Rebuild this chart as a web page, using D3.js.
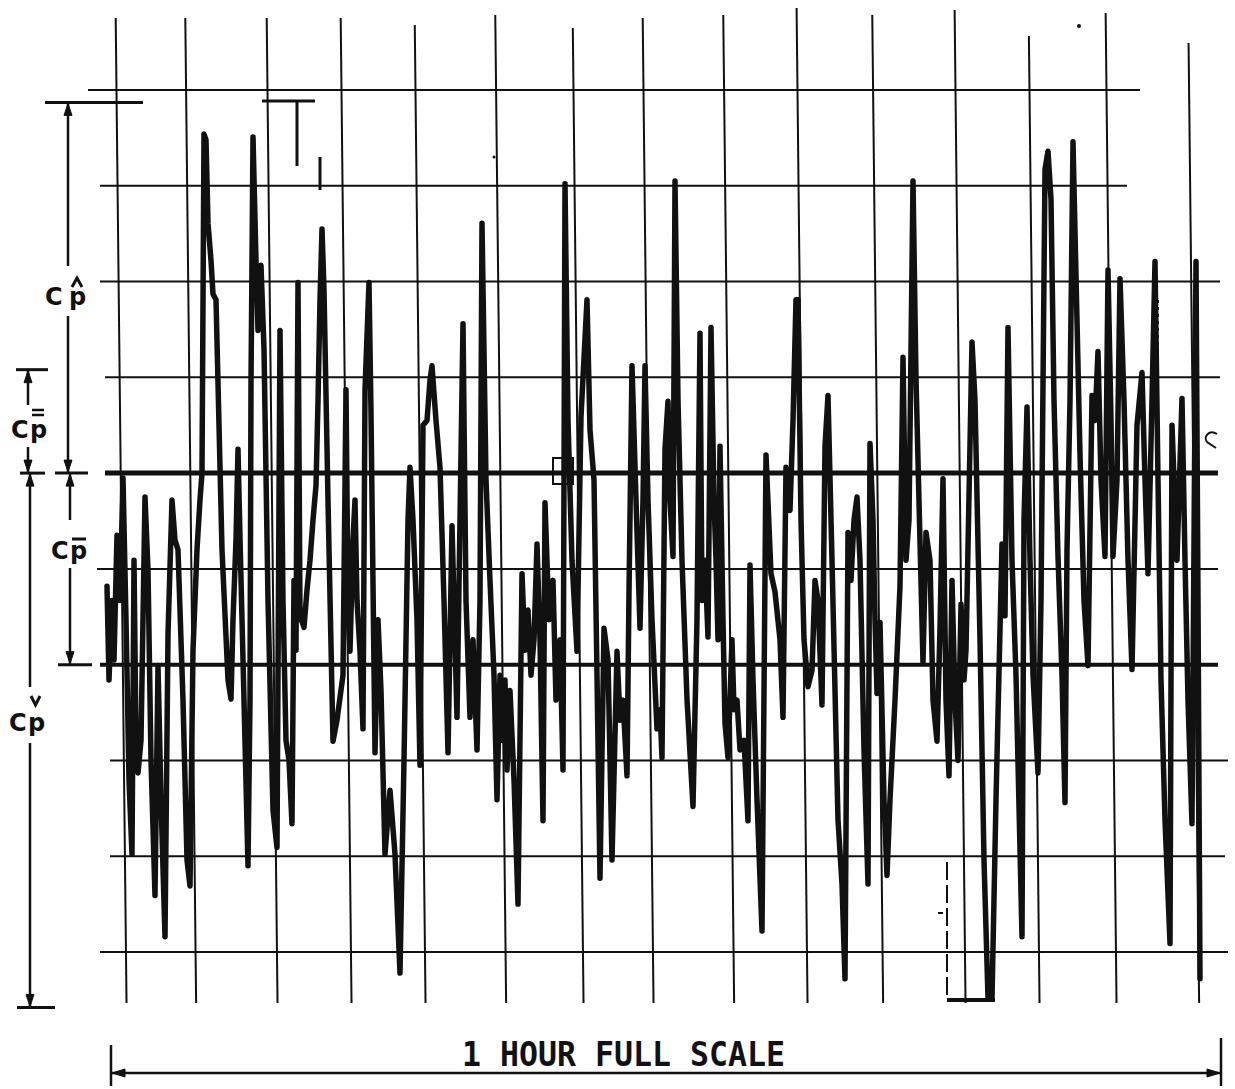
<!DOCTYPE html>
<html>
<head>
<meta charset="utf-8">
<script src="https://cdn.jsdelivr.net/npm/d3@7.9.0/dist/d3.min.js"></script>
<style>
  html, body { margin: 0; padding: 0; background: #fff; }
  svg { display: block; }
  .lbl { font-family: 'DejaVu Sans', sans-serif; font-weight: bold; font-size: 24px; fill: #111; }
  .scale { font-family: 'DejaVu Sans Mono', monospace; font-weight: bold; font-size: 34px; fill: #111; }
</style>
</head>
<body>
<svg id="chart" width="1235" height="1089"></svg>
<script>
// pen record: time in minutes, Cp in chart divisions (0 = upper heavy line)
const t1 = [0.35,0.45,0.6,0.7,0.85,1.0,1.15,1.3,1.45,1.6,1.7,1.8,1.9,2.05,2.25,2.4,2.55,2.75,2.9,3.05,3.25,3.4,3.6,3.75,3.9,4.15,4.35,4.5,4.65,4.85,5.0,5.1,5.2,5.3,5.4,5.55,5.65,5.8,6.1,6.4,6.55,6.65,6.8,6.9,7.0,7.2,7.4,7.5,7.55,7.65,7.8,7.9,8.05,8.2,8.4,8.65,8.85,9.0,9.15,9.3,9.45,9.6];
const cp1 = [-1.18,-2.16,-1.33,-1.95,-0.65,-1.33,-0.05,-1.53,-3.20,-3.98,-0.91,-2.79,-3.13,-2.79,-0.25,-1.01,-3.00,-4.41,-2.01,-3.41,-4.84,-1.68,-0.28,-0.70,-0.80,-2.37,-4.04,-4.31,-1.85,-0.80,-0.28,0.00,3.54,3.48,2.61,2.22,1.87,1.81,-0.80,-2.16,-2.36,-1.53,-0.70,0.25,-0.68,-2.37,-4.10,-2.37,0.93,3.51,2.22,1.49,2.17,1.30,-1.33,-3.52,-3.91,1.49,-1.33,-2.79,-3.00,-3.66];

const t2 = [9.7,9.8,9.9,10.0,10.2,10.35,10.5,10.65,10.8,10.9,11.0,11.1,11.2,11.4,11.65,11.85,12.15,12.3,12.4,12.5,12.65,12.75,12.85,13.0,13.15,13.25,13.45,13.55,13.75,13.9,14.05,14.25,14.5,14.75,15.0,15.2,15.4,15.5,15.65,15.85,16.0,16.15,16.35,16.5,16.6,16.8,17.0,17.2,17.4,17.6,17.85,18.15,18.3,18.5,18.65,18.85];
const cp2 = [-1.12,-1.85,1.99,-1.49,-1.61,-1.22,-0.91,-0.49,-0.13,0.75,1.81,2.55,1.91,-0.28,-2.80,-2.58,-2.11,0.87,-1.33,-1.86,-0.70,-0.28,-1.33,-1.86,-2.67,0.87,1.99,0.63,-2.92,-1.53,-2.27,-3.98,-3.31,-3.98,-5.22,-3.00,-0.49,0.06,-0.49,-1.53,-3.05,0.50,0.55,0.97,1.12,0.55,0.06,-1.33,-2.92,-0.55,-2.55,1.56,-1.33,-2.55,-1.74,-2.89];

const t3 = [19.0,19.1,19.3,19.5,19.7,19.85,20.0,20.15,20.25,20.35,20.5,20.7,20.9,21.1,21.25,21.4,21.55,21.7,21.85,22.0,22.15,22.25,22.45,22.65,22.8,23.0,23.15,23.25,23.4,23.6,23.85,24.05,24.35,24.5,24.7,24.85,25.0,25.2,25.4,25.6,25.85,26.0,26.15,26.35,26.45,26.6,26.8,27.0,27.15,27.25,27.4,27.6,27.85,28.0,28.1,28.25,28.4];
const cp3 = [-1.33,2.61,-0.07,-1.12,-2.11,-3.41,-2.11,-2.79,-2.16,-3.10,-2.27,-3.20,-4.50,-1.05,-1.85,-1.43,-2.11,-1.74,-0.74,-1.74,-3.63,-0.31,-1.53,-1.12,-2.37,-1.74,-3.10,3.02,0.55,-0.91,-1.86,0.59,1.81,0.45,-0.07,-2.11,-4.23,-1.62,-1.95,-4.04,-1.86,-2.58,-2.37,-3.16,-1.24,1.12,-0.28,-1.62,-0.28,1.12,-0.28,-1.53,-2.67,-2.47,-2.97,0.25,0.75];

const t4 = [28.5,28.65,28.75,28.9,29.1,29.35,29.65,29.85,30.0,30.1,30.25,30.4,30.55,30.7,30.8,30.9,31.0,31.15,31.25,31.4,31.6,31.7,31.85,32.0,32.2,32.4,32.5,32.65,32.85,33.1,33.3,33.55,33.75,34.0,34.15,34.3,34.5,34.65,34.8,34.9,35.05,35.2,35.4,35.6,35.75,35.9,36.1,36.25,36.4,36.6,36.9,37.1,37.25,37.4,37.55,37.7,37.85];
const cp4 = [-0.28,-0.87,3.05,0.76,-0.91,-2.36,-3.48,-1.52,1.46,-1.33,-0.91,-1.71,1.52,-0.28,-0.91,-1.74,0.28,-1.53,-2.61,-2.97,-1.74,-2.47,-2.37,-2.89,-2.79,-3.63,-0.96,-2.16,-3.41,-4.78,0.19,-1.05,-1.24,-1.74,-2.55,0.06,-0.39,0.55,1.81,1.81,-0.49,-1.74,-2.23,-2.06,-1.12,-1.33,-2.42,0.28,0.81,-0.91,-3.62,-4.29,-5.28,-0.62,-1.12,-0.49,-0.25];

const t5 = [38.0,38.2,38.4,38.5,38.65,38.75,38.85,39.0,39.2,39.35,39.5,39.75,40.0,40.15,40.3,40.45,40.65,40.8,40.9,41.15,41.3,41.5,41.65,41.85,42.0,42.15,42.3,42.45,42.6,42.75,42.9,43.05,43.2,43.3,43.6,43.75,44.0,44.2,44.4,44.6,44.8,45.1,45.25,45.4,45.6,45.8,46.1,46.2,46.35,46.5,46.65,46.9,47.05,47.25,47.4];
const cp5 = [-0.91,-2.89,-4.29,0.31,-0.49,-1.53,-2.30,-1.56,-3.41,-4.20,-3.41,-2.37,-1.18,1.21,-0.91,-0.49,3.05,0.99,0.13,-1.98,-0.62,-0.91,-2.37,-2.80,-1.62,-0.06,-2.37,-3.16,-1.12,-2.37,-3.00,-1.37,-2.16,-1.85,1.37,0.76,-1.74,-4.04,-5.48,-5.48,-3.41,-0.74,-1.49,1.52,-0.91,-2.11,-4.84,-0.49,0.69,-0.91,-2.11,-3.13,-1.33,3.17,3.36];

const t6 = [47.55,47.7,47.9,48.1,48.25,48.35,48.5,48.65,48.8,49.0,49.2,49.4,49.6,49.75,49.9,50.05,50.25,50.4,50.55,50.65,50.85,51.0,51.2,51.4,51.6,51.85,52.1,52.25,52.4,52.6,52.75,52.9,53.05,53.25,53.5,53.6,53.85,54.1,54.25,54.4,54.6,54.8,54.9,55.0];
const cp6 = [2.86,0.76,-0.87,-2.11,-3.44,-0.80,0.75,3.46,2.06,0.19,-1.33,-2.01,0.81,0.55,1.27,-0.07,-0.87,2.12,0.55,-0.87,-0.07,2.03,0.76,-0.91,-2.05,0.50,1.05,-0.07,-1.05,0.76,2.21,-0.07,-2.16,-3.62,-4.91,0.50,-0.91,0.78,-0.91,-2.37,-3.66,2.21,-1.33,-5.28];

// chart rulings
const gridMinutes = [1.05,4.53,8.6,12.3,16.0,20.03,23.9,27.4,31.43,35.1,38.88,43.0,46.7,50.55,54.68];
const gridDivisions = [4,3,2,1,0,-1,-2,-3,-4,-5];
const heavyDivisions = [0,-2];

// dimension marks on the left: Cp^ , Cp= , Cp- , Cpv
const dimNames = ['hat','dbar','bar','check'];
const dimTop = [3.87,1.08,0,0];
const dimBottom = [0,0,-2,-5.58];
const hourLabel = '1 HOUR FULL SCALE';

const svg = d3.select('#chart');
const ink = '#111';
const x = d3.scaleLinear().domain([0, 60]).range([100, 1300]);
const y = d3.scaleLinear().domain([-5, 4]).range([952, 90]);

// horizontal rulings (each one printed a little differently)
const hSpan = [[88,1140],[100,1127],[100,1220],[105,1220],[105,1218],[97,1218],[100,1218],[110,1228],[110,1225],[100,1228]];
svg.append('g').selectAll('line').data(gridDivisions).join('line')
  .attr('x1', (d, i) => hSpan[i][0]).attr('x2', (d, i) => hSpan[i][1])
  .attr('y1', d => y(d)).attr('y2', d => y(d))
  .attr('stroke', ink)
  .attr('stroke-width', d => d === 0 ? 5 : (heavyDivisions.includes(d) ? 4 : 2));

// time rulings lean slightly to the right going down
const slant = 0.011;
const vTop = [18,18,18,18,25,15,28,18,15,8,15,10,36,13,43];
const vBottom = 1003;
svg.append('g').selectAll('line').data(gridMinutes).join('line')
  .attr('x1', (d, i) => x(d) - slant * (500 - vTop[i])).attr('y1', (d, i) => vTop[i])
  .attr('x2', d => x(d) + slant * (vBottom - 500)).attr('y2', vBottom)
  .attr('stroke', ink).attr('stroke-width', 2);

// the record itself
const record = d3.merge([
  d3.zip(t1, cp1), d3.zip(t2, cp2), d3.zip(t3, cp3),
  d3.zip(t4, cp4), d3.zip(t5, cp5), d3.zip(t6, cp6)
]);
const line = d3.line().x(d => x(d[0])).y(d => y(d[1]));
svg.append('path')
  .attr('d', line(record))
  .attr('fill', 'none')
  .attr('stroke', ink)
  .attr('stroke-width', 5.5)
  .attr('stroke-linejoin', 'round')
  .attr('stroke-linecap', 'round');

// stray marks on the record
const marks = svg.append('g').attr('stroke', ink).attr('fill', 'none').attr('stroke-width', 3);
marks.append('path').attr('d', 'M262,101H315M297,101V166M320,157V190');
marks.append('path').attr('d', 'M947,1000H995').attr('stroke-width', 4);
marks.append('path').attr('d', 'M947,862V1000').attr('stroke-width', 2).attr('stroke-dasharray', '18 5');
marks.append('rect').attr('x', 553).attr('y', 458).attr('width', 20).attr('height', 26).attr('stroke-width', 2);
marks.append('path').attr('d', 'M565,486V685').attr('stroke-width', 2).attr('stroke-dasharray', '3 4');
marks.append('path').attr('d', 'M1158,300V467').attr('stroke-width', 2).attr('stroke-dasharray', '3 4');
marks.append('path').attr('d', 'M1217,434C1209,429 1203,437 1207,442L1216,448').attr('stroke-width', 2);
marks.append('path').attr('d', 'M938,913H943').attr('stroke-width', 2);
svg.append('circle').attr('cx', 1079).attr('cy', 26).attr('r', 2).attr('fill', ink);
svg.append('circle').attr('cx', 494).attr('cy', 157).attr('r', 1.5).attr('fill', ink);

// dimension arrows
const dimX = [68, 28, 70, 30];
const dimGap = [[266,316],[405,447],[520,568],[687,743]];
const dims = svg.append('g').attr('stroke', ink).attr('stroke-width', 2.5);
function arrowHead(px, tip, dir) {
  // dir -1 points up, +1 points down
  dims.append('path')
    .attr('d', `M${px},${tip}L${px - 4},${tip - dir * 12}L${px + 4},${tip - dir * 12}Z`)
    .attr('fill', ink).attr('stroke-width', 1);
}
dimNames.forEach((n, i) => {
  const top = y(dimTop[i]) + 1, bot = y(dimBottom[i]) - 1;
  dims.append('line').attr('x1', dimX[i]).attr('x2', dimX[i]).attr('y1', top).attr('y2', dimGap[i][0]);
  dims.append('line').attr('x1', dimX[i]).attr('x2', dimX[i]).attr('y1', dimGap[i][1]).attr('y2', bot);
  arrowHead(dimX[i], top, -1);
  arrowHead(dimX[i], bot, 1);
});
// extension ticks
const ticks = svg.append('g').attr('stroke', ink).attr('stroke-width', 3);
ticks.append('line').attr('x1', 45).attr('x2', 143).attr('y1', y(dimTop[0])).attr('y2', y(dimTop[0]));
ticks.append('line').attr('x1', 16).attr('x2', 48).attr('y1', y(dimTop[1])).attr('y2', y(dimTop[1]));
ticks.append('line').attr('x1', 20).attr('x2', 45).attr('y1', y(0)).attr('y2', y(0));
ticks.append('line').attr('x1', 55).attr('x2', 88).attr('y1', y(0)).attr('y2', y(0));
ticks.append('line').attr('x1', 58).attr('x2', 92).attr('y1', y(dimBottom[2])).attr('y2', y(dimBottom[2]));
ticks.append('line').attr('x1', 17).attr('x2', 55).attr('y1', y(dimBottom[3])).attr('y2', y(dimBottom[3]));

// labels "C" and "p" with their accents
const labelPos = [[45, 69, 305], [11, 30, 438], [51, 70, 559], [9, 28, 731]];
labelPos.forEach(([cx, px, base]) => {
  svg.append('text').attr('class', 'lbl').attr('x', cx).attr('y', base).text('C');
  svg.append('text').attr('class', 'lbl').attr('x', px).attr('y', base).text('p');
});
const acc = svg.append('g').attr('stroke', ink).attr('fill', 'none').attr('stroke-width', 3);
acc.append('path').attr('d', 'M72,287L77,278L82,287');
acc.append('path').attr('d', 'M32,410H44M32,415H44').attr('stroke-width', 2.5);
acc.append('path').attr('d', 'M72,539H86');
acc.append('path').attr('d', 'M31,696L35.5,705L40,696');

// full scale bar
const fs = svg.append('g').attr('stroke', ink).attr('stroke-width', 2.5);
fs.append('line').attr('x1', 111).attr('x2', 1221).attr('y1', 1073).attr('y2', 1073);
fs.append('line').attr('x1', 111).attr('x2', 111).attr('y1', 1045).attr('y2', 1086);
fs.append('line').attr('x1', 1221).attr('x2', 1221).attr('y1', 1038).attr('y2', 1086);
fs.append('path').attr('d', 'M112,1073L125,1069L125,1077Z').attr('fill', ink).attr('stroke-width', 1);
fs.append('path').attr('d', 'M1220,1073L1207,1069L1207,1077Z').attr('fill', ink).attr('stroke-width', 1);
svg.append('text').attr('class', 'scale').attr('x', 462).attr('y', 1066)
  .attr('textLength', 323).attr('lengthAdjust', 'spacingAndGlyphs').text(hourLabel);
</script>
</body>
</html>
